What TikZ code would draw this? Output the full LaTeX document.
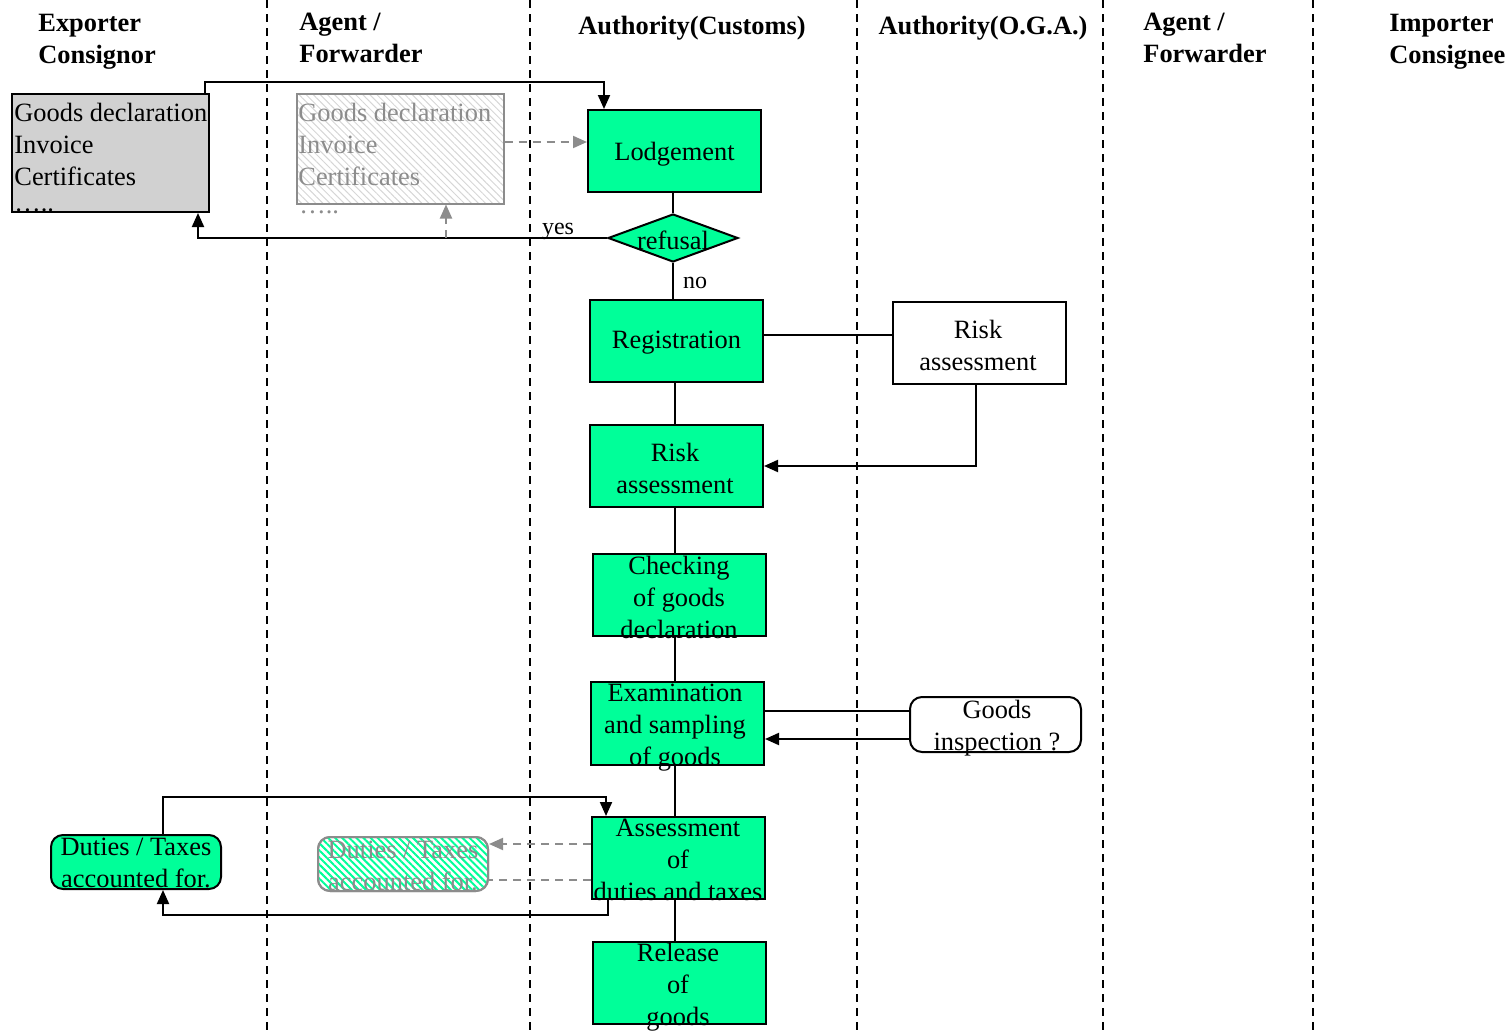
\documentclass[tikz,border=0pt]{standalone}
\usepackage{fontspec}
\setmainfont{Liberation Serif}
\usetikzlibrary{shapes.geometric,arrows.meta,patterns.meta}
\definecolor{grn}{RGB}{0,255,153}
\definecolor{ghost}{RGB}{140,140,140}
\begin{document}
\begin{tikzpicture}[x=0.5pt,y=-0.5pt,
  every node/.style={font=\fontsize{13.2}{16}\selectfont},
  lane/.style={line width=1pt,dash pattern=on 4pt off 3pt},
  hdr/.style={font=\fontsize{13.2}{16}\selectfont\bfseries,align=left,inner sep=0pt},
  gbox/.style={draw,line width=1pt,fill=grn,minimum width=86.5pt,minimum height=41pt,inner sep=0pt},
  wbox/.style={draw,line width=1pt,fill=white,minimum width=86.5pt,minimum height=41pt,inner sep=0pt},
  txt/.style={align=center,inner sep=0pt},
  conn/.style={line width=1pt},
  arr/.style={line width=1pt,-{Triangle[length=7pt,width=6pt]}},
  garr/.style={line width=1pt,draw=ghost,dash pattern=on 4pt off 3pt,-{Triangle[length=7pt,width=6pt,fill=ghost]}},
  gline/.style={line width=1pt,draw=ghost,dash pattern=on 4pt off 3pt},
  lbl/.style={font=\fontsize{12}{14}\selectfont,inner sep=0pt}
]
\useasboundingbox (0,0) rectangle (1511,1033);
% lanes
\foreach \x in {267,530,857,1103,1313} \draw[lane] (\x,0) -- (\x,1033);
% headers
\node[hdr,anchor=west] (h1) at (38,42) {Exporter\\Consignor};
\node[hdr,anchor=west] (h2) at (299,38) {Agent /\\Forwarder};
\node[hdr] (h3) at (692,28) {Authority(Customs)};
\node[hdr] (h4) at (983,28) {Authority(O.G.A.)};
\node[hdr,anchor=west] (h5) at (1143,38) {Agent /\\Forwarder};
\node[hdr,anchor=west] (h6) at (1389,42) {Importer\\Consignee};

% document boxes
\node[draw,line width=1pt,fill=black!18,minimum width=98.5pt,minimum height=59pt,inner sep=0pt] (expdoc) at (110.5,153) {};
\node[txt,align=left,anchor=west] (expdocT) at (14,144) {Goods declaration\\Invoice\\Certificates};
\node[txt,anchor=west] (expdots) at (14,210) {…..};

\node[draw=ghost,line width=1pt,fill=white,pattern={Lines[angle=-45,distance=2.5pt,line width=0.5pt]},pattern color=black!16,minimum width=103.5pt,minimum height=55pt,inner sep=0pt] (agdoc) at (400.5,149) {};
\node[draw=ghost,line width=1pt,minimum width=103.5pt,minimum height=55pt,inner sep=0pt] (agdocB) at (400.5,149) {};
\node[txt,align=left,anchor=west,text=ghost] (agdocT) at (298,144) {Goods declaration\\Invoice\\Certificates};
\node[txt,anchor=west,text=ghost] (agdots) at (299,212) {…..};

% customs flow
\node[gbox] (lodge) at (674.5,151) {};
\node[txt] (lodgeT) at (674.5,154) {Lodgement};
\node[diamond,draw,line width=1pt,fill=grn,shape aspect=2.7,minimum width=65pt,minimum height=24pt,inner sep=0pt] (refusal) at (673,238) {};
\node[txt] (refusalT) at (673,240) {refusal};
\node[gbox] (reg) at (676.5,341) {};
\node[txt] (regT) at (676.5,343) {Registration};
\node[wbox] (riskw) at (979.5,343) {};
\node[txt] (riskwT) at (978,345) {Risk\\assessment};
\node[gbox] (riskg) at (676.5,466) {};
\node[txt] (riskgT) at (675,468) {Risk\\assessment};
\node[gbox] (check) at (679.5,595) {};
\node[txt] (checkT) at (679,597) {Checking\\of goods\\declaration};
\node[gbox,minimum height=41.5pt] (exam) at (677.5,723.5) {};
\node[txt] (examT) at (675,728) {Examination\\and sampling\\of goods};
\node[draw,line width=1pt,fill=white,rounded corners=6pt,minimum width=85.5pt,minimum height=27.5pt,inner sep=0pt] (insp) at (995.5,724.5) {};
\node[txt] (inspT) at (997,728) {Goods\\inspection ?};
\node[gbox] (assess) at (678.5,858) {};
\node[txt] (assessT) at (678,860) {Assessment\\of\\duties and taxes};
\node[gbox] (rel) at (679.5,983) {};
\node[txt] (relT) at (678,987) {Release\\of\\goods};

% duties boxes
\node[draw,line width=1pt,fill=grn,rounded corners=6pt,minimum width=85pt,minimum height=27pt,inner sep=0pt] (dutexp) at (136,862) {};
\node[txt] (dutexpT) at (136,863) {Duties / Taxes\\accounted for.};
\node[draw=ghost,line width=1pt,fill=white,rounded corners=6pt,minimum width=85pt,minimum height=27pt,inner sep=0pt] (dutag0) at (403,864) {};
\node[rounded corners=6pt,pattern={Lines[angle=-45,distance=2.5pt,line width=1pt]},pattern color=grn,minimum width=85pt,minimum height=27pt,inner sep=0pt] (dutagP) at (403,864) {};
\node[draw=ghost,line width=1pt,rounded corners=6pt,minimum width=85pt,minimum height=27pt,inner sep=0pt] (dutag) at (403,864) {};
\node[txt,text=ghost] (dutagT) at (403,866) {Duties / Taxes\\accounted for.};

% labels
\node[lbl] (yes) at (558,231) {yes};
\node[lbl] (no) at (695,283) {no};

% connectors
\draw[arr] (205,0 |- expdoc.north) -- (205,82) -| (604,0 |- lodge.north);
\draw[garr] (agdoc.east |- 0,142) -- (lodge.west |- 0,142);
\draw[conn] (lodge.south -| refusal.north) -- (refusal.north);
\draw[arr] (refusal.west) -- (198,238) -- (198,0 |- expdoc.south);
\draw[garr] (446,238) -- (446,0 |- agdoc.south);
\draw[conn] (refusal.south) -- (refusal.south |- reg.north);
\draw[conn] (reg.east |- 0,335) -- (riskw.west |- 0,335);
\draw[conn] (reg.south -| 675,0) -- (riskg.north -| 675,0);
\draw[arr] (976,0 |- riskw.south) -- (976,466) -- (riskg.east |- 0,466);
\draw[conn] (riskg.south -| 675,0) -- (check.north -| 675,0);
\draw[conn] (check.south -| 675,0) -- (exam.north -| 675,0);
\draw[conn] (exam.east |- 0,711) -- (insp.west |- 0,711);
\draw[arr] (insp.west |- 0,739) -- (exam.east |- 0,739);
\draw[conn] (exam.south -| 675,0) -- (assess.north -| 675,0);
\draw[arr] (163,0 |- dutexp.north) -- (163,797) -| (606,0 |- assess.north);
\draw[arr] (608,0 |- assess.south) -- (608,915) -| (163,0 |- dutexp.south);
\draw[garr] (assess.west |- 0,844) -- (dutag.east |- 0,844);
\draw[gline] (assess.west |- 0,880) -- (dutag.east |- 0,880);
\draw[conn] (assess.south -| 675,0) -- (rel.north -| 675,0);
\end{tikzpicture}
\end{document}
